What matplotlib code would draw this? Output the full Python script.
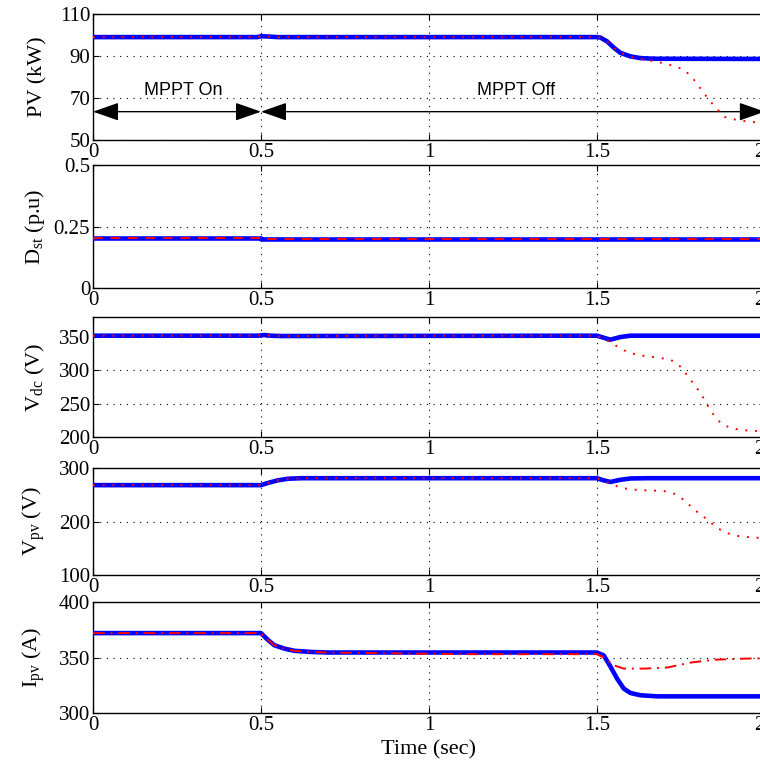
import matplotlib
matplotlib.use("Agg")
import matplotlib.pyplot as plt
import matplotlib.transforms as mtransforms

plt.rcParams["font.family"] = ["Liberation Serif", "DejaVu Serif"]
plt.rcParams["mathtext.fontset"] = "custom"
plt.rcParams["mathtext.rm"] = "Liberation Serif"
plt.rcParams["mathtext.it"] = "Liberation Serif:italic"

# PV power (kW)
pv_t_mppt = [0, 0.49, 0.5, 0.52, 0.55, 1.5, 1.51, 1.53, 1.55, 1.57, 1.6, 1.63, 1.67, 2.0]
pv_mppt = [99, 99, 99.4, 99.3, 99, 99, 98.8, 97, 94, 91.5, 89.8, 89, 88.7, 88.6]
pv_t_off = [0, 0.49, 0.5, 0.52, 0.55, 1.5, 1.51, 1.53, 1.55, 1.57, 1.6, 1.63, 1.67, 1.7,
            1.73, 1.76, 1.79, 1.82, 1.85, 1.88, 1.91, 1.94, 1.97, 2.0]
pv_off = [99, 99, 99.4, 99.3, 99, 99, 98.8, 97, 94, 91.5, 89.6, 88.6, 87.5, 86.5,
          85.2, 83.5, 78.5, 72, 66, 61, 59.8, 59, 58.5, 58.3]

# shoot-through duty (p.u)
d_t = [0, 0.5, 0.5, 2.0]
d_mppt = [0.205, 0.205, 0.199, 0.199]
d_off = [0.205, 0.205, 0.199, 0.199]

# DC link voltage (V)
vdc_t_mppt = [0, 0.49, 0.51, 0.53, 0.56, 1.5, 1.52, 1.54, 1.57, 1.6, 2.0]
vdc_mppt = [352, 352, 353, 352, 351.5, 352, 349, 346, 350, 352, 352]
vdc_t_off = [0, 0.49, 0.51, 0.53, 0.56, 1.5, 1.52, 1.55, 1.58, 1.62, 1.67, 1.72, 1.75,
             1.78, 1.81, 1.84, 1.87, 1.9, 1.94, 1.98, 2.0]
vdc_off = [352, 352, 353, 352, 351.5, 352, 348, 339, 330, 323, 320, 316, 305,
           285, 265, 238, 220, 213, 210, 209, 209]

# PV voltage (V)
vpv_t_mppt = [0, 0.5, 0.52, 0.55, 0.58, 0.62, 1.5, 1.52, 1.54, 1.57, 1.6, 1.65, 2.0]
vpv_mppt = [268, 268, 272, 277, 280, 281, 281, 277, 274, 278, 280.5, 281, 281]
vpv_t_off = [0, 0.5, 0.52, 0.55, 0.58, 0.62, 1.5, 1.52, 1.55, 1.58, 1.62, 1.7, 1.73,
             1.76, 1.79, 1.83, 1.86, 1.89, 1.92, 1.96, 2.0]
vpv_off = [268, 268, 272, 277, 280, 281, 281, 276, 268, 262, 259, 257, 252,
           240, 222, 203, 187, 178, 173, 170, 169]

# PV current (A)
ipv_t_mppt = [0, 0.5, 0.52, 0.54, 0.57, 0.6, 0.65, 0.7, 1.5, 1.52, 1.54, 1.56, 1.58,
              1.6, 1.63, 1.68, 2.0]
ipv_mppt = [372, 372, 366, 361, 358, 356, 355, 354.5, 354.5, 352, 342, 331, 322,
            318, 316, 315, 315]
ipv_t_off = [0, 0.5, 0.52, 0.54, 0.57, 0.6, 0.65, 0.7, 1.1, 1.5, 1.52, 1.55, 1.58,
             1.64, 1.71, 1.78, 1.85, 1.94, 2.0]
ipv_off = [372, 372, 366, 361, 358, 356, 355, 354.5, 353, 353, 350, 343, 340,
           340, 341, 345.5, 348, 349, 349.3]

panels = [
    (pv_t_mppt, pv_mppt, pv_t_off, pv_off, (50, 110), [50, 70, 90, 110], "PV (kW)", (0, (1, 4))),
    (d_t, d_mppt, d_t, d_off, (0, 0.5), [0, 0.25, 0.5], r"D$_{\mathrm{st}}$ (p.u)", (0, (5, 4))),
    (vdc_t_mppt, vdc_mppt, vdc_t_off, vdc_off, (200, 380), [200, 250, 300, 350], r"V$_{\mathrm{dc}}$ (V)", (0, (1, 4))),
    (vpv_t_mppt, vpv_mppt, vpv_t_off, vpv_off, (100, 300), [100, 200, 300], r"V$_{\mathrm{pv}}$ (V)", (0, (1, 4))),
    (ipv_t_mppt, ipv_mppt, ipv_t_off, ipv_off, (300, 400), [300, 350, 400], r"I$_{\mathrm{pv}}$ (A)", (0, (6, 3, 1, 3))),
]

# axes boxes in figure fraction (bottom, height)
boxes = [(0.8191, 0.1628), (0.6279, 0.1589), (0.4354, 0.1550), (0.2571, 0.1382), (0.0788, 0.1434)]

fig = plt.figure(figsize=(7.6, 7.74), dpi=100)
shift = mtransforms.ScaledTranslation(-6 / 100, 0, fig.dpi_scale_trans)
axes = []
for (tm, ym, to, yo, ylim, yticks, ylab, rstyle), (b, h) in zip(panels, boxes):
    ax = fig.add_axes([0.1224, b, 0.884, h])
    ax.plot(tm, ym, color="blue", lw=3.3, solid_capstyle="round", zorder=3)
    ax.plot(to, yo, color="red", lw=1.4, linestyle=rstyle, zorder=4)
    ax.set_xlim(0, 2)
    ax.set_ylim(*ylim)
    ax.set_xticks([0, 0.5, 1, 1.5, 2])
    ax.set_xticklabels(["0", "0.5", "1", "1.5", "2"])
    ax.set_yticks(yticks)
    ax.set_yticklabels([f"{v:g}" for v in yticks])
    ax.grid(True, color="black", linestyle=(0, (1, 5)), lw=0.8)
    ax.tick_params(direction="in", top=True, right=True, labelsize=15, length=4, pad=2)
    ax.set_ylabel(ylab, fontsize=16)
    ax.yaxis.set_label_coords(-0.068, 0.5)
    for s in ax.spines.values():
        s.set_linewidth(1.0)
    # last tick label sits partly outside the figure, nudge it in a bit
    lbl = ax.get_xticklabels()[-1]
    lbl.set_transform(lbl.get_transform() + shift)
    axes.append(ax)

# MPPT on/off annotations
ax0 = axes[0]
arrow = dict(arrowstyle="<|-|>,head_length=1.0,head_width=0.35", color="black", lw=1.0,
             shrinkA=0, shrinkB=0, mutation_scale=16)
ax0.annotate("", xy=(0.0, 63.5), xytext=(0.5, 63.5), arrowprops=arrow)
ax0.annotate("", xy=(0.5, 63.5), xytext=(2.0, 63.5), arrowprops=arrow)
ax0.text(0.27, 73.5, "MPPT On", family=["Liberation Sans"], fontsize=13, ha="center", va="center")
ax0.text(1.26, 73.5, "MPPT Off", family=["Liberation Sans"], fontsize=13, ha="center", va="center")

axes[-1].set_xlabel("Time (sec)", fontsize=16, labelpad=4)

fig.savefig("out.png", dpi=100)
